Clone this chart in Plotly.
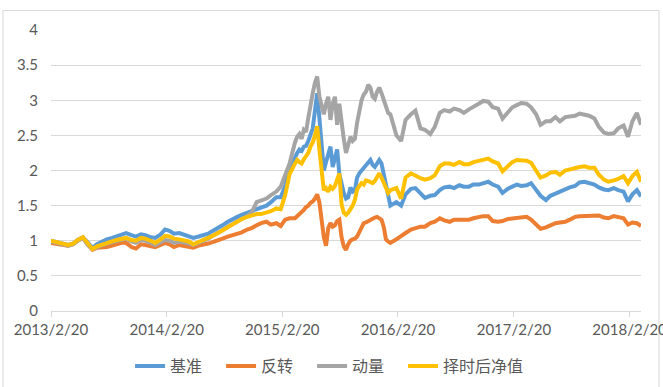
import plotly.graph_objects as go

# ---- x categories (dates) ----
dates = [
    "2013-02-20", "2013-03-01", "2013-03-15", "2013-04-01", "2013-04-15", "2013-05-01", "2013-05-15",
    "2013-06-01", "2013-06-15", "2013-07-01", "2013-07-15", "2013-08-01", "2013-08-15", "2013-09-01",
    "2013-09-15", "2013-10-01", "2013-10-15", "2013-11-01", "2013-11-15", "2013-12-01", "2013-12-15",
    "2014-01-01", "2014-01-15", "2014-02-01", "2014-02-15", "2014-03-01", "2014-03-15", "2014-04-01",
    "2014-04-15", "2014-05-01", "2014-05-15", "2014-06-01", "2014-06-15", "2014-07-01", "2014-07-15",
    "2014-08-01", "2014-08-15", "2014-09-01", "2014-09-15", "2014-10-01", "2014-10-15", "2014-11-01",
    "2014-11-15", "2014-12-01", "2014-12-15", "2015-01-01", "2015-01-15", "2015-02-01", "2015-02-15",
    "2015-03-01", "2015-03-15",
    "2015-04-01", "2015-04-08", "2015-04-15", "2015-04-22", "2015-04-29", "2015-05-06", "2015-05-13",
    "2015-05-20", "2015-05-27", "2015-06-03", "2015-06-10", "2015-06-17", "2015-06-24", "2015-07-01",
    "2015-07-08", "2015-07-15", "2015-07-22", "2015-07-29", "2015-08-05", "2015-08-12", "2015-08-19",
    "2015-08-26", "2015-09-02", "2015-09-09", "2015-09-16", "2015-09-23", "2015-09-30", "2015-10-07",
    "2015-10-14", "2015-10-21", "2015-10-28", "2015-11-04", "2015-11-11", "2015-11-18", "2015-11-25",
    "2015-12-02", "2015-12-09", "2015-12-16", "2015-12-23", "2015-12-30", "2016-01-06", "2016-01-13",
    "2016-01-20", "2016-01-27",
    "2016-02-15", "2016-03-01", "2016-03-15", "2016-04-01", "2016-04-15", "2016-05-01", "2016-05-15",
    "2016-06-01", "2016-06-15", "2016-07-01", "2016-07-15", "2016-08-01", "2016-08-15", "2016-09-01",
    "2016-09-15", "2016-10-01", "2016-10-15", "2016-11-01", "2016-11-15", "2016-12-01", "2016-12-15",
    "2017-01-01", "2017-01-15", "2017-02-01", "2017-02-15", "2017-03-01", "2017-03-15", "2017-04-01",
    "2017-04-15", "2017-05-01", "2017-05-15", "2017-06-01", "2017-06-15", "2017-07-01", "2017-07-15",
    "2017-08-01", "2017-08-15", "2017-09-01", "2017-09-15", "2017-10-01", "2017-10-15", "2017-11-01",
    "2017-11-15", "2017-12-01", "2017-12-15", "2018-01-01", "2018-01-15", "2018-02-01", "2018-02-15",
    "2018-03-01", "2018-03-15", "2018-03-28",
]

# ---- series values ----
jizhun = [  # 基准
    1.00, 0.99, 0.97, 0.95, 0.94, 0.96, 1.01, 1.05, 0.97, 0.90, 0.95, 0.99, 1.02, 1.04, 1.06,
    1.08, 1.11, 1.08, 1.06, 1.09, 1.08, 1.05, 1.04, 1.09, 1.16, 1.14, 1.10, 1.11, 1.09, 1.06,
    1.04, 1.06, 1.08, 1.10, 1.14, 1.18, 1.22, 1.27, 1.31, 1.34, 1.37, 1.40, 1.41, 1.45, 1.47,
    1.50, 1.55, 1.62, 1.62, 1.78, 2.02,
    2.20, 2.25, 2.30, 2.28, 2.34, 2.35, 2.42, 2.50, 2.60, 2.85, 3.10, 2.75, 2.40, 2.00, 2.12,
    2.25, 2.34, 2.05, 2.20, 2.30, 1.95, 1.80, 1.68, 1.60, 1.62, 1.76, 1.70, 1.72, 1.90, 1.96,
    2.00, 2.03, 2.06, 2.12, 2.15, 2.08, 2.05, 2.10, 2.15, 2.10, 1.96, 1.80, 1.70, 1.50,
    1.55, 1.50, 1.66, 1.74, 1.75, 1.68, 1.61, 1.64, 1.65, 1.72, 1.76, 1.77, 1.75, 1.79, 1.77,
    1.77, 1.80, 1.80, 1.82, 1.84, 1.80,
    1.77, 1.68, 1.74, 1.77, 1.80, 1.78, 1.79, 1.82, 1.73, 1.64, 1.58, 1.64, 1.67, 1.70, 1.74,
    1.76, 1.78, 1.83, 1.84, 1.82, 1.80, 1.76, 1.73, 1.72,
    1.75, 1.72, 1.70, 1.56, 1.66, 1.72, 1.63,
]
fanzhuan = [  # 反转
    0.97, 0.96, 0.95, 0.94, 0.93, 0.95, 1.00, 1.04, 0.95, 0.87, 0.90, 0.90, 0.91, 0.93, 0.95,
    0.97, 0.97, 0.91, 0.89, 0.95, 0.94, 0.92, 0.91, 0.94, 0.97, 0.95, 0.91, 0.94, 0.93, 0.92,
    0.90, 0.93, 0.94, 0.96, 0.98, 1.00, 1.03, 1.06, 1.08, 1.09, 1.12, 1.16, 1.18, 1.22, 1.25,
    1.27, 1.23, 1.25, 1.21, 1.30, 1.32,
    1.32, 1.35, 1.38, 1.40, 1.44, 1.48, 1.50, 1.54, 1.56, 1.60, 1.66, 1.55, 1.30, 1.05, 0.93,
    1.18, 1.25, 1.20, 1.22, 1.28, 1.30, 1.05, 0.92, 0.87, 0.95, 1.00, 1.02, 1.03, 1.06, 1.12,
    1.20, 1.25, 1.26, 1.28, 1.30, 1.31, 1.33, 1.34, 1.32, 1.30, 1.20, 1.02, 0.99, 0.97,
    1.02, 1.06, 1.11, 1.16, 1.18, 1.20, 1.20, 1.25, 1.27, 1.32, 1.29, 1.27, 1.30, 1.30, 1.29,
    1.30, 1.32, 1.34, 1.35, 1.35, 1.28,
    1.27, 1.28, 1.31, 1.32, 1.32, 1.34, 1.34, 1.30, 1.22, 1.17, 1.19, 1.22, 1.25, 1.26, 1.27,
    1.30, 1.34, 1.35, 1.35, 1.35, 1.36, 1.36, 1.33, 1.32,
    1.35, 1.34, 1.32, 1.23, 1.26, 1.25, 1.21,
]
dongliang = [  # 动量
    0.99, 0.98, 0.96, 0.94, 0.93, 0.95, 1.00, 1.04, 0.95, 0.88, 0.91, 0.94, 0.96, 0.98, 1.00,
    1.02, 1.03, 0.99, 0.97, 1.01, 1.00, 0.97, 0.94, 0.98, 1.01, 1.00, 0.97, 0.99, 0.98, 0.96,
    0.94, 0.97, 1.00, 1.03, 1.07, 1.11, 1.15, 1.20, 1.24, 1.28, 1.31, 1.35, 1.40, 1.55, 1.57,
    1.60, 1.65, 1.70, 1.77, 1.95, 2.10,
    2.40, 2.48, 2.52, 2.45, 2.58, 2.55, 2.75, 2.95, 3.10, 3.25, 3.34, 3.05, 2.90, 2.80, 2.95,
    3.05, 2.72, 2.95, 3.05, 2.65, 2.95, 2.65, 2.45, 2.25, 2.35, 2.48, 2.42, 2.45, 2.68, 2.88,
    3.00, 3.08, 3.12, 3.22, 3.18, 3.05, 3.02, 3.12, 3.18, 3.10, 3.00, 2.90, 2.82, 2.80,
    2.50, 2.42, 2.72, 2.80, 2.85, 2.60, 2.58, 2.52, 2.62, 2.82, 2.86, 2.84, 2.88, 2.86, 2.82,
    2.87, 2.90, 2.95, 2.99, 2.98, 2.90,
    2.88, 2.74, 2.84, 2.90, 2.93, 2.96, 2.95, 2.90, 2.80, 2.65, 2.70, 2.70, 2.76, 2.70, 2.76,
    2.77, 2.78, 2.81, 2.80, 2.78, 2.74, 2.62, 2.54, 2.52,
    2.53, 2.60, 2.64, 2.48, 2.70, 2.82, 2.65,
]
zeshi = [  # 择时后净值
    1.00, 0.99, 0.97, 0.95, 0.94, 0.96, 1.01, 1.05, 0.96, 0.88, 0.92, 0.95, 0.97, 0.99, 1.01,
    1.03, 1.04, 1.01, 1.00, 1.04, 1.03, 1.00, 0.97, 1.02, 1.07, 1.06, 1.03, 1.02, 1.01, 0.99,
    0.95, 0.98, 1.01, 1.04, 1.07, 1.11, 1.15, 1.20, 1.24, 1.28, 1.31, 1.34, 1.36, 1.38, 1.38,
    1.40, 1.42, 1.46, 1.45, 1.65, 1.95,
    2.10, 2.15, 2.12, 2.10, 2.16, 2.20, 2.25, 2.34, 2.40, 2.50, 2.63, 2.30, 2.00, 1.72, 1.75,
    1.70, 1.77, 1.74, 1.78, 1.88, 1.96, 1.52, 1.40, 1.37, 1.40, 1.45, 1.50, 1.58, 1.73, 1.78,
    1.82, 1.80, 1.86, 1.85, 1.83, 1.82, 1.85, 1.92, 1.96, 1.90, 1.82, 1.74, 1.68, 1.72,
    1.75, 1.60, 1.90, 1.96, 1.92, 1.89, 1.87, 1.89, 1.93, 2.06, 2.10, 2.10, 2.08, 2.12, 2.09,
    2.09, 2.12, 2.14, 2.16, 2.17, 2.13,
    2.10, 1.99, 2.07, 2.12, 2.15, 2.15, 2.14, 2.11, 2.01, 1.90, 1.93, 1.97, 1.98, 1.94, 2.00,
    2.02, 2.04, 2.05, 2.06, 2.04, 2.04, 1.94, 1.87, 1.84,
    1.86, 1.88, 1.92, 1.82, 1.92, 1.98, 1.84,
]

series_names = ["基准", "反转", "动量", "择时后净值"]
series_values = [jizhun, fanzhuan, dongliang, zeshi]
series_colors = ["#5B9BD5", "#ED7D31", "#A5A5A5", "#FFC000"]
legend_widths = [46, 46, 46, 90]

tick_dates = ["2013-02-20", "2014-02-20", "2015-02-20", "2016-02-20", "2017-02-20", "2018-02-20"]
tick_labels = ["2013/2/20", "2014/2/20", "2015/2/20", "2016/2/20", "2017/2/20", "2018/2/20"]
y_ticks = [0, 0.5, 1, 1.5, 2, 2.5, 3, 3.5, 4]
y_labels = ["0", "0.5", "1", "1.5", "2", "2.5", "3", "3.5", "4"]

fig = go.Figure()
for name, vals, col, lw in zip(series_names, series_values, series_colors, legend_widths):
    fig.add_trace(go.Scatter(x=dates, y=vals, mode="lines", name=name, legendwidth=lw,
                             line=dict(color=col, width=4)))

axis_font = dict(family="Lato, Liberation Sans, sans-serif", size=15, color="#595959")

fig.update_layout(
    template="none",
    width=663, height=387,
    margin=dict(l=51, r=22, t=30, b=76),
    paper_bgcolor="white", plot_bgcolor="white",
    showlegend=True,
    legend=dict(orientation="h", xref="paper", x=0.134, xanchor="left",
                yref="container", y=0.054, yanchor="middle",
                font=dict(family="Noto Sans CJK SC", size=16, color="#595959"),
                bgcolor="rgba(0,0,0,0)"),
    xaxis=dict(type="date", range=["2013-02-20", "2018-03-28"],
               tickmode="array", tickvals=tick_dates, ticktext=tick_labels,
               showgrid=False, zeroline=False, showline=True, linecolor="#D9D9D9", linewidth=1,
               ticks="outside", ticklen=5, tickcolor="#D9D9D9", tickfont=axis_font,
               ticklabeloverflow="allow", automargin=False),
    yaxis=dict(range=[0, 4], tickmode="array", tickvals=y_ticks, ticktext=y_labels,
               showgrid=True, gridcolor="#D9D9D9", gridwidth=1, zeroline=False,
               showline=False, ticks="", tickfont=axis_font, ticklabelstandoff=12,
               automargin=False),
    shapes=[dict(type="rect", xref="paper", yref="paper",
                 x0=-0.0814, x1=1.0305, y0=-0.30, y1=1.0695,
                 line=dict(color="#D9D9D9", width=1), fillcolor="rgba(0,0,0,0)", layer="below")],
)

fig.write_html("out.html", config={"displayModeBar": False},
               post_script="document.body.style.margin='0';document.body.style.overflow='hidden';")
